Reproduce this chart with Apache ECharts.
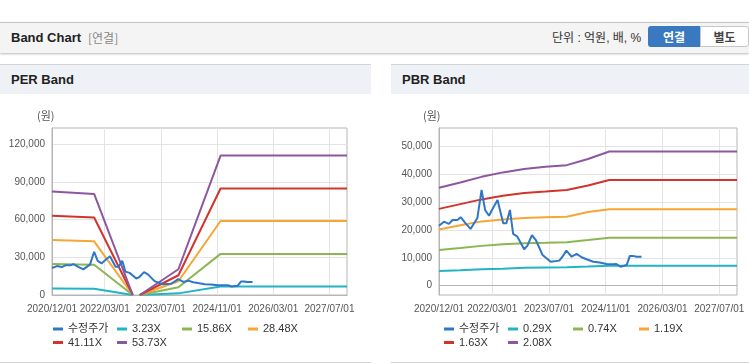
<!DOCTYPE html>
<html><head><meta charset="utf-8">
<script src="https://cdn.jsdelivr.net/npm/echarts@6/dist/echarts.min.js"></script>
<style>
html,body{margin:0;padding:0;background:#fff;width:749px;height:364px;overflow:hidden;font-family:'Liberation Sans','Noto Sans CJK KR',sans-serif;}
.abs{position:absolute;}
#hdr{left:0;top:22px;width:749px;height:30px;background:#f4f4f4;border-top:1px solid #c6c6c6;box-shadow:0 1px 2px rgba(0,0,0,0.28);}
.t{position:absolute;white-space:nowrap;}
.bar{top:64px;height:29px;background:#eef1f6;border-top:1px solid #d4d4d4;}
.btm{top:362px;height:1px;background:#d2d2d2;}
#c{position:absolute;left:0;top:0;width:749px;height:364px;}
</style></head>
<body>
<div id="hdr" class="abs">
  <div class="t" style="left:11px;top:7px;font-size:13px;font-weight:bold;color:#222;">Band Chart</div>
  <div class="t" style="left:88px;top:7px;font-size:12px;color:#888;font-family:'Noto Sans CJK KR';line-height:16px;">[연결]</div>
  <div class="t" style="left:552px;top:7px;font-size:12px;color:#333;font-family:'Liberation Sans','Noto Sans CJK KR';line-height:16px;">단위 : 억원, 배, %</div>
  <div class="t" style="left:648px;top:3px;width:52px;height:21px;background:#3a78bf;border-radius:3px 0 0 3px;color:#fff;font-weight:bold;font-size:12px;text-align:center;line-height:21px;font-family:'Noto Sans CJK KR';">연결</div>
  <div class="t" style="left:700px;top:3px;width:47px;height:19px;background:#fff;border:1px solid #c6c6c6;border-radius:0 3px 3px 0;color:#444;font-weight:bold;font-size:12px;text-align:center;line-height:19px;font-family:'Noto Sans CJK KR';">별도</div>
</div>
<div class="abs bar" style="left:0;width:371px;"><div class="t" style="left:11px;top:7px;font-size:13px;font-weight:bold;color:#222;">PER Band</div></div>
<div class="abs bar" style="left:391px;width:358px;"><div class="t" style="left:11px;top:7px;font-size:13px;font-weight:bold;color:#222;">PBR Band</div></div>
<div class="abs btm" style="left:0;width:371px;"></div>
<div class="abs btm" style="left:391px;width:358px;"></div>
<div id="c"></div>
<script>
// ---- x axis (months since 2020/12/01) ----
const xTickMonths = [0, 15, 31, 47, 63, 79];
const xTickLabels = ['2020/12/01', '2022/03/01', '2023/07/01', '2024/11/01', '2026/03/01', '2027/07/01'];
const xMin = 0, xMax = 84;

// ---- adjusted price (수정주가), months since 2020/12 ----
const priceMonths = [0, 1.4, 2.8, 3.8, 5.2, 6.1, 7.5, 8.9, 9.9, 10.8, 12.0, 13.0, 14.1, 15.2, 16.5, 17.0, 18.1, 19.0, 20.0, 20.9, 22.1, 24.0, 24.9, 26.2, 27.3, 29.2, 31.5, 33.9, 34.8, 35.9, 37.4, 38.8, 40.2, 41.6, 43.5, 45.3, 47.2, 49.1, 50.0, 51.2, 52.9, 53.8, 54.7, 55.7, 57.1];
const priceValues = [21500, 23000, 22200, 23600, 23600, 24600, 22400, 20400, 22400, 24200, 34400, 27200, 25100, 27800, 30800, 30400, 22400, 22400, 27200, 18600, 17600, 13100, 14300, 18200, 16400, 11000, 8600, 9000, 10400, 12600, 10400, 11400, 10200, 9500, 8600, 8300, 7800, 7700, 7800, 6800, 7400, 10700, 10700, 10400, 10400];

// ---- PER bands ----
const perMonths = [0, 12, 23, 24, 25, 36, 48, 84];
const perNames = ['3.23X', '15.86X', '28.48X', '41.11X', '53.73X'];
const per323  = [5100, 5000, 0, null, 0, 1300, 6700, 6700];
const per1586 = [24600, 24000, 0, null, 0, 6100, 32700, 32700];
const per2848 = [43700, 42700, 0, null, 0, 10900, 58900, 58900];
const per4111 = [63100, 61600, 0, null, 0, 15700, 84700, 84700];
const per5373 = [82300, 80400, 0, null, 0, 20500, 110900, 110900];
const perYTicks = [0, 30000, 60000, 90000, 120000];
const perYMin = 0, perYMax = 132840;

// ---- PBR bands ----
const pbrMonths = [0, 6, 12, 18, 24, 30, 36, 42, 48, 84];
const pbrNames = ['0.29X', '0.74X', '1.19X', '1.63X', '2.08X'];
const pbr029 = [5250, 5500, 5900, 6100, 6450, 6550, 6600, 6850, 7150, 7150];
const pbr074 = [12800, 13500, 14300, 14900, 15250, 15400, 15600, 16400, 17250, 17250];
const pbr119 = [20200, 21700, 23100, 23800, 24300, 24600, 24800, 26500, 27500, 27500];
const pbr163 = [27600, 29300, 31000, 32300, 33300, 33800, 34400, 36000, 38000, 38000];
const pbr208 = [35200, 37100, 39100, 40700, 41900, 42700, 43300, 45500, 48200, 48200];
const pbrYTicks = [0, 10000, 20000, 30000, 40000, 50000];
const pbrYMin = -3350, pbrYMax = 56650;

const priceName = '수정주가';
const colors = {price:'#2f77c6', b1:'#22b3c5', b2:'#8cb652', b3:'#f5a634', b4:'#d1342c', b5:'#8e569f'};
const bandColors = [colors.b1, colors.b2, colors.b3, colors.b4, colors.b5];

function pairs(xs, ys){ return xs.map((x,i)=>[x, ys[i]===null ? '-' : ys[i]]); }
const fmtNum = v => Number(v).toLocaleString('en-US');
const fmtX = v => { const i = xTickMonths.indexOf(v); return i >= 0 ? xTickLabels[i] : ''; };

function xAxis(gi){
  return {type:'value', gridIndex:gi, min:xMin, max:xMax,
    axisLine:{show:true, lineStyle:{color:'#b5b5b5'}},
    axisTick:{show:false, customValues:xTickMonths},
    axisLabel:{customValues:xTickMonths, formatter:fmtX, fontSize:10, color:'#555', margin:9, fontFamily:"'Liberation Sans Narrow','Liberation Sans',sans-serif"},
    splitLine:{show:true, lineStyle:{color:'#e4e4e4'}}};
}
function yAxis(gi, mn, mx, ticks){
  return {type:'value', gridIndex:gi, min:mn, max:mx,
    axisLine:{show:true, lineStyle:{color:'#b5b5b5'}},
    axisTick:{show:false, customValues:ticks},
    axisLabel:{customValues:ticks, formatter:fmtNum, fontSize:10, color:'#555', margin:7, fontFamily:"'Liberation Sans Narrow','Liberation Sans',sans-serif"},
    splitLine:{show:true, lineStyle:{color:'#e4e4e4'}}};
}
function line(name, data, color, gi, z){
  return {type:'line', name, data, xAxisIndex:gi, yAxisIndex:gi, showSymbol:false, symbol:'none',
    lineStyle:{width:2, color}, itemStyle:{color}, connectNulls:false, clip:true, z:z||2, animation:false};
}

const perBands = [per323, per1586, per2848, per4111, per5373];
const pbrBands = [pbr029, pbr074, pbr119, pbr163, pbr208];
const series = [];
perBands.forEach((b,i)=>series.push(line(perNames[i], pairs(perMonths,b), bandColors[i], 0)));
series.push(line(priceName, pairs(priceMonths, priceValues), colors.price, 0, 3));
pbrBands.forEach((b,i)=>series.push(line(pbrNames[i], pairs(pbrMonths,b), bandColors[i], 1)));
series.push(line(priceName, pairs(priceMonths, priceValues), colors.price, 1, 3));

const legendCols = [53, 117, 182, 248];
const legendRows = [323.5, 337];
function legends(offset, names){
  const all = [priceName].concat(names);
  return all.map((n,i)=>({data:[n], left:offset + legendCols[i%4], top:legendRows[Math.floor(i/4)],
    icon:'rect', itemWidth:10, itemHeight:3, padding:0, selectedMode:false,
    textStyle:{fontSize:11, color:'#333', fontFamily:"'Liberation Sans','Noto Sans CJK KR',sans-serif"}}));
}

const chart = echarts.init(document.getElementById('c'), null, {renderer:'canvas'});
chart.setOption({
  animation:false,
  grid:[
    {left:52, top:128, width:295, height:167, show:true, borderColor:'#b5b5b5', borderWidth:1, backgroundColor:'transparent'},
    {left:439, top:128, width:298, height:167, show:true, borderColor:'#b5b5b5', borderWidth:1, backgroundColor:'transparent'}
  ],
  xAxis:[xAxis(0), xAxis(1)],
  yAxis:[yAxis(0, perYMin, perYMax, perYTicks), yAxis(1, pbrYMin, pbrYMax, pbrYTicks)],
  legend: legends(0, perNames).concat(legends(391, pbrNames)),
  graphic:[
    {type:'text', left:37, top:110, style:{text:'(원)', fontSize:11, fill:'#555', fontFamily:"'Noto Sans CJK KR',sans-serif"}},
    {type:'text', left:423, top:110, style:{text:'(원)', fontSize:11, fill:'#555', fontFamily:"'Noto Sans CJK KR',sans-serif"}}
  ],
  series
});
</script>
</body></html>
